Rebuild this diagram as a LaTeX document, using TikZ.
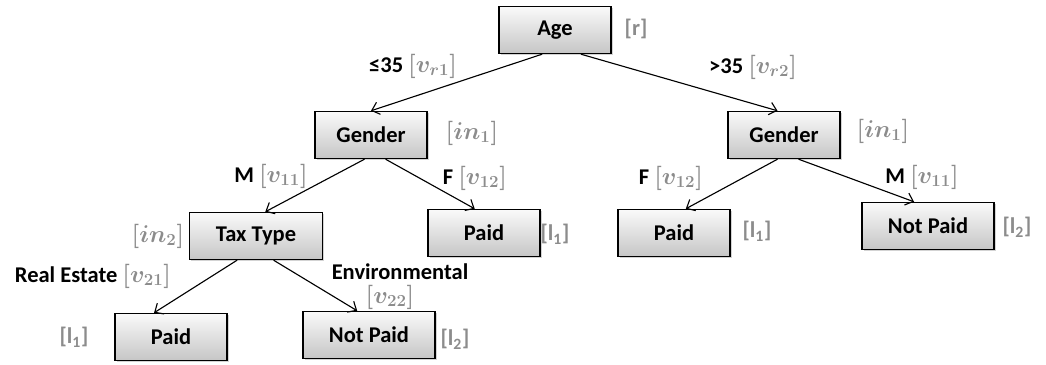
\documentclass[tikz,border=0pt]{standalone}
\usepackage{fontspec}
\setmainfont{Carlito}
\usetikzlibrary{shadows, arrows.meta}

\definecolor{tagcol}{HTML}{8C8C8C}
\tikzset{
    box/.style={draw=black, line width=1pt, top color=gray!4, bottom color=gray!45,
        minimum width=2.8cm, minimum height=1.175cm, inner sep=0pt,
        font=\fontsize{16}{18}\selectfont\bfseries,
        drop shadow={shadow xshift=1.2pt, shadow yshift=-1.2pt, opacity=0.35}},
    tag/.style={text=tagcol, font=\fontsize{16}{18}\selectfont\bfseries, inner sep=0pt},
    lbl/.style={font=\fontsize{16}{18}\selectfont\bfseries, inner sep=0pt},
    arr/.style={-{Straight Barb[length=5pt, width=9pt]}, line width=0.8pt}
}
\newcommand{\gtag}[1]{\textcolor{tagcol}{\fontsize{17}{19}\selectfont\boldmath$[#1]$}}

\begin{document}
\begin{tikzpicture}[x=0.025cm, y=-0.025cm]
        \useasboundingbox (0,0) rectangle (1046,365);

        % nodes of the tree
        \node[box] (age) at (555,30) {Age};
        \node[box] (genL) at (371,135) {Gender};
        \node[box] (genR) at (784,135) {Gender};
        \node[box, minimum width=3.325cm] (tax) at (256,236) {Tax Type};
        \node[box] (paidM) at (484,233) {Paid};
        \node[box] (paidR) at (674,233) {Paid};
        \node[box, minimum width=3.3cm] (npR) at (928,226) {Not Paid};
        \node[box] (paidB) at (171,337) {Paid};
        \node[box, minimum width=3.3cm] (npB) at (369,335) {Not Paid};

        % tags beside the nodes
        \node[tag] (tagAge) at (636,29) {[r]};
        \node[tag] (tagGenL) at (472,133) {\gtag{in_1}};
        \node[tag] (tagGenR) at (883,131) {\gtag{in_1}};
        \node[tag] (tagTax) at (158,236) {\gtag{in_2}};
        \node[tag] (tagPaidM) at (555,234) {[l\textsubscript{1}]};
        \node[tag] (tagPaidR) at (757,231) {[l\textsubscript{1}]};
        \node[tag] (tagNpR) at (1017,227) {[l\textsubscript{2}]};
        \node[tag] (tagPaidB) at (74,337) {[l\textsubscript{1}]};
        \node[tag] (tagNpB) at (455,339) {[l\textsubscript{2}]};

        % connectors
        \draw[arr] (age.-118) -- (genL.north);
        \draw[arr] (age.-43) -- (genR.105);
        \draw[arr] (genL.-105) -- (tax.69);
        \draw[arr] (genL.-59) -- (paidM.111);
        \draw[arr] (tax.-128) -- (paidB.125);
        \draw[arr] (tax.-54) -- (npB.116);
        \draw[arr] (genR.-105) -- (paidR.64);
        \draw[arr] (genR.-59) -- (npR.120);

        % connector labels
        \node[lbl] (lLe) at (413,66) {≤35 \gtag{v_{r1}}};
        \node[lbl] (lGt) at (753,67) {>35 \gtag{v_{r2}}};
        \node[lbl] (lML) at (271,176) {M \gtag{v_{11}}};
        \node[lbl] (lFL) at (475,178) {F \gtag{v_{12}}};
        \node[lbl] (lFR) at (671,178) {F \gtag{v_{12}}};
        \node[lbl] (lMR) at (922,177) {M \gtag{v_{11}}};
        \node[lbl] (lRE) at (93,276) {Real Estate \gtag{v_{21}}};
        \node[lbl] (lEnv) at (400,272) {Environmental};
        \node[lbl] (lEnvV) at (390,297) {\gtag{v_{22}}};
\end{tikzpicture}
\end{document}
